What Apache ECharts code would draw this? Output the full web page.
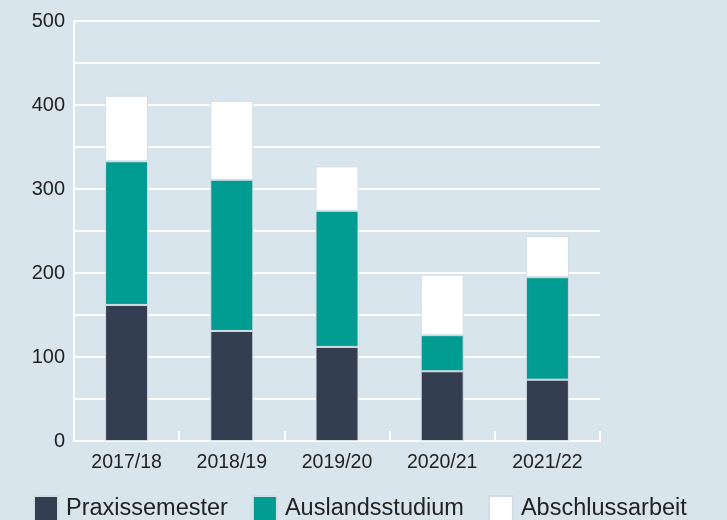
<!DOCTYPE html>
<html>
<head>
<meta charset="utf-8">
<script src="https://cdn.jsdelivr.net/npm/echarts@6/dist/echarts.min.js"></script>
<style>
  html, body { margin: 0; padding: 0; background: #d9e5ec; }
  #chart { width: 727px; height: 520px; }
</style>
</head>
<body>
<div id="chart"></div>
<script>
const years = ['2017/18', '2018/19', '2019/20', '2020/21', '2021/22']
const praxis = [162, 131, 112, 83, 73]
const ausland = [171, 180, 162, 43, 122]
const abschluss = [78, 94, 53, 72, 49]
const yTicks = [0, 100, 200, 300, 400, 500]

const myChart = echarts.init(document.getElementById('chart'))
const font = '"Liberation Sans", Arial, sans-serif'
const seg = (name, data, color) => ({
  name: name,
  type: 'bar',
  stack: 'total',
  data: data,
  barWidth: 43,
  itemStyle: { color: color, borderColor: '#d3dde4', borderWidth: 1 }
})
const option = {
  backgroundColor: '#d9e5ec',
  textStyle: { fontFamily: font },
  animation: false,
  grid: { left: 74, right: 127, top: 21, bottom: 79 },
  legend: {
    left: 33,
    top: 495,
    padding: 0,
    itemWidth: 24,
    itemHeight: 25,
    itemGap: 24,
    icon: 'rect',
    textStyle: { fontSize: 23.5, color: '#222222', fontFamily: font, padding: [0, 0, 0, 3] },
    data: ['Praxissemester', 'Auslandsstudium', 'Abschlussarbeit']
  },
  xAxis: {
    type: 'category',
    data: years,
    axisLine: { lineStyle: { color: '#ffffff', width: 2 } },
    axisTick: { show: true, inside: true, length: 10, lineStyle: { color: '#ffffff', width: 2 } },
    axisLabel: { fontSize: 19.5, color: '#222222', margin: 12, fontFamily: font }
  },
  yAxis: {
    type: 'value',
    min: 0,
    max: 500,
    interval: 50,
    axisLine: { show: true, lineStyle: { color: '#ffffff', width: 2 } },
    axisTick: { show: false },
    axisLabel: {
      fontSize: 20,
      color: '#222222',
      margin: 9,
      fontFamily: font,
      formatter: function (v) { return yTicks.indexOf(v) >= 0 ? String(v) : '' }
    },
    splitLine: { show: true, lineStyle: { color: '#ffffff', width: 2 } }
  },
  series: [
    seg('Praxissemester', praxis, '#333f50'),
    seg('Auslandsstudium', ausland, '#009b91'),
    seg('Abschlussarbeit', abschluss, '#ffffff')
  ]
}
myChart.setOption(option)
</script>
</body>
</html>
